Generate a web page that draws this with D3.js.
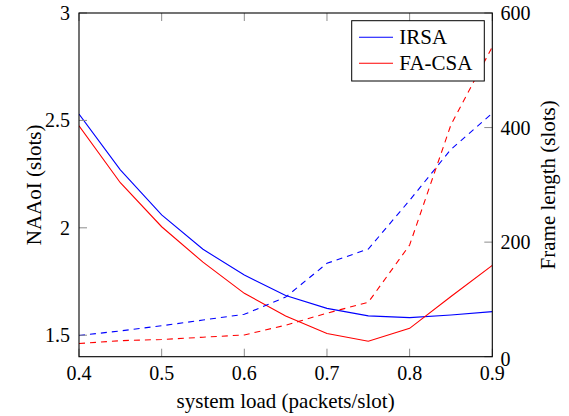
<!DOCTYPE html>
<html><head><meta charset="utf-8">
<script src="https://cdn.jsdelivr.net/npm/d3@7"></script>
<style>body{margin:0;background:#fff}svg{display:block}text{font-family:"Liberation Serif","Times New Roman",serif;fill:#000}</style>
</head><body><svg id="c" width="569" height="416"></svg>
<script>
const loads = [0.4,0.45,0.5,0.55,0.6,0.65,0.7,0.75,0.8,0.85,0.9];
const irsaNAAoI = [2.53,2.27,2.06,1.90,1.78,1.685,1.625,1.59,1.582,1.594,1.61];
const facsaNAAoI = [2.475,2.21,2.005,1.84,1.695,1.59,1.508,1.472,1.532,1.68,1.825];
const irsaFrame = [37,45,54,64,74,104,163,188,273,362,425];
const facsaFrame = [23,28,30,34,38,55,76,95,195,405,541];
const xTicks = [0.4,0.5,0.6,0.7,0.8,0.9];
const yLeftTicks = [1.5,2,2.5,3];
const yRightTicks = [0,200,400,600];
const seriesNames = ["IRSA","FA-CSA"];
const seriesColors = ["#0000ff","#ff0000"];

const L=79, R=492.3, T=13, B=356.7;
const svg = d3.select("#c");
const x = d3.scaleLinear().domain([0.4,0.9]).range([L,R]);
const yL = d3.scaleLinear().domain([1.4,3]).range([B,T]);
const yR = d3.scaleLinear().domain([0,600]).range([B,T]);

svg.append("defs").append("clipPath").attr("id","clip").append("rect")
  .attr("x",L).attr("y",T).attr("width",R-L).attr("height",B-T);

const g = svg.append("g").attr("clip-path","url(#clip)");
const lineL = d3.line().x((d,i)=>x(loads[i])).y(d=>yL(d));
const lineR = d3.line().x((d,i)=>x(loads[i])).y(d=>yR(d));
const sets = [
  {d:irsaNAAoI, f:lineL, c:seriesColors[0], dash:null},
  {d:facsaNAAoI, f:lineL, c:seriesColors[1], dash:null},
  {d:irsaFrame, f:lineR, c:seriesColors[0], dash:"6,5"},
  {d:facsaFrame, f:lineR, c:seriesColors[1], dash:"6,5"}
];
sets.forEach(s=>{
  g.append("path").attr("d",s.f(s.d)).attr("fill","none").attr("stroke",s.c)
   .attr("stroke-width",1.1).attr("stroke-dasharray",s.dash);
});

// ticks (inside)
const tickCol="#8c8c8c", tl=8;
const axG = svg.append("g");
xTicks.forEach(t=>{
  axG.append("line").attr("x1",x(t)).attr("x2",x(t)).attr("y1",B).attr("y2",B-tl).attr("stroke",tickCol);
  axG.append("line").attr("x1",x(t)).attr("x2",x(t)).attr("y1",T).attr("y2",T+tl).attr("stroke",tickCol);
  axG.append("text").attr("x",x(t)).attr("y",380).attr("text-anchor","middle")
    .style("font-size","20px").text(d3.format(".1f")(t));
});
yLeftTicks.forEach(t=>{
  axG.append("line").attr("x1",L).attr("x2",L+tl).attr("y1",yL(t)).attr("y2",yL(t)).attr("stroke",tickCol);
  axG.append("text").attr("x",70).attr("y",yL(t)+7).attr("text-anchor","end")
    .style("font-size","20px").text(d3.format("")(t));
});
yRightTicks.forEach(t=>{
  axG.append("line").attr("x1",R).attr("x2",R-tl).attr("y1",yR(t)).attr("y2",yR(t)).attr("stroke",tickCol);
  axG.append("text").attr("x",500.5).attr("y",yR(t)+7+(t===0?2:0)).attr("text-anchor","start")
    .style("font-size","20px").text(t);
});
// frame
axG.append("rect").attr("x",L).attr("y",T).attr("width",R-L).attr("height",B-T)
  .attr("fill","none").attr("stroke","#000").attr("stroke-width",1.1);

// axis labels
svg.append("text").attr("x",(L+R)/2).attr("y",408).attr("text-anchor","middle")
  .style("font-size","21px").text("system load (packets/slot)");
svg.append("text").attr("transform",`translate(41,${(T+B)/2}) rotate(-90)`).attr("text-anchor","middle")
  .style("font-size","21px").text("NAAoI (slots)");
svg.append("text").attr("transform",`translate(555,${(T+B)/2}) rotate(-90)`).attr("text-anchor","middle")
  .style("font-size","21px").text("Frame length (slots)");

// legend
const lg = svg.append("g");
lg.append("rect").attr("x",351.7).attr("y",20.7).attr("width",132.6).attr("height",60.3)
  .attr("fill","#fff").attr("stroke","#000").attr("stroke-width",1);
seriesNames.forEach((n,i)=>{
  const yy = 37.3 + i*26;
  lg.append("line").attr("x1",359).attr("x2",393).attr("y1",yy).attr("y2",yy).attr("stroke",seriesColors[i]).attr("stroke-width",1.1);
  lg.append("text").attr("x",399.3).attr("y",yy+7).style("font-size","21px").text(n);
});
</script></body></html>
